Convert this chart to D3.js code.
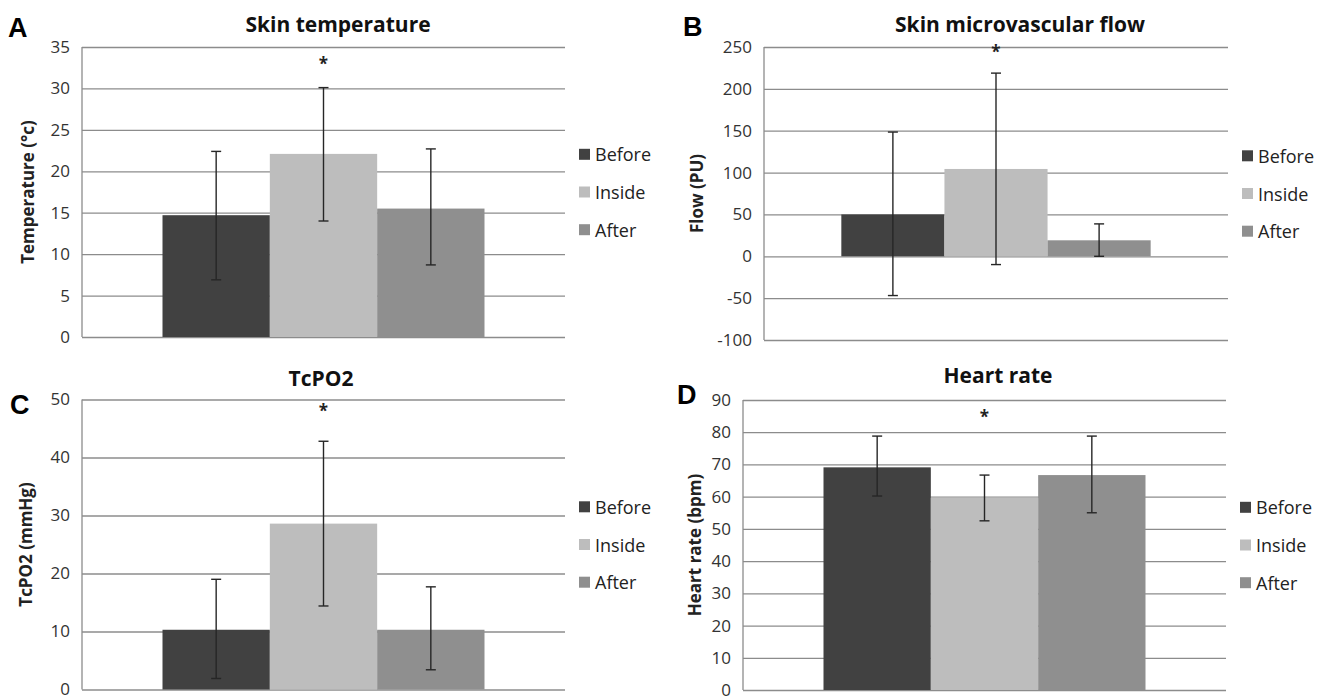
<!DOCTYPE html>
<html>
<head>
<meta charset="utf-8">
<script src="https://cdn.jsdelivr.net/npm/d3@7"></script>
<style>
  html, body { margin: 0; padding: 0; background: #fff; }
  svg { display: block; }
  text { font-family: "Open Sans", "Noto Sans", sans-serif; }
</style>
</head>
<body>
<svg id="chart" width="1323" height="696"></svg>
<script>
// ---------- data ----------
const categories = ["Before", "Inside", "After"];
const panelIds = ["A", "B", "C", "D"];
const titles = ["Skin temperature", "Skin microvascular flow", "TcPO2", "Heart rate"];
const yTitles = ["Temperature (°c)", "Flow (PU)", "TcPO2 (mmHg)", "Heart rate (bpm)"];
const yMins = [0, -100, 0, 0];
const yMaxs = [35, 250, 50, 90];
const yTickSteps = [5, 50, 10, 10];
const means = [
  [14.7, 22.1, 15.5],
  [50, 104.3, 19.1],
  [10.3, 28.6, 10.3],
  [69.1, 59.7, 66.7]
];
const errLow = [
  [6.9, 14.0, 8.7],
  [-46.9, -9.9, 0],
  [1.9, 14.4, 3.4],
  [60.2, 52.5, 55.0]
];
const errHigh = [
  [22.4, 30.1, 22.7],
  [148.4, 218.8, 38.7],
  [19.0, 42.8, 17.7],
  [78.8, 66.7, 78.8]
];
const sigCategory = ["Inside", "Inside", "Inside", "Inside"];
const sigValues = [33.3, 247.5, 48.6, 85.9];

// ---------- style / layout ----------
const colors = ["#414141", "#bdbdbd", "#8f8f8f"];
const frames = [
  { left: 82,  right: 565,  top: 47,  bottom: 337, letterX: 8,   letterY: 37,  titleX: 338,  titleY: 32,  yTitleX: 27 },
  { left: 764, right: 1228, top: 47,  bottom: 340, letterX: 683, letterY: 36,  titleX: 1020, titleY: 32,  yTitleX: 696 },
  { left: 82,  right: 565,  top: 399.5, bottom: 689.5, letterX: 10, letterY: 414, titleX: 321, titleY: 386, yTitleX: 25 },
  { left: 743, right: 1226, top: 400, bottom: 690, letterX: 677, letterY: 404, titleX: 998,  titleY: 383, yTitleX: 694 }
];

const svg = d3.select("#chart");
const color = d3.scaleOrdinal().domain(categories).range(colors);

panelIds.forEach((id, i) => {
  const f = frames[i];
  const g = svg.append("g");

  const y = d3.scaleLinear().domain([yMins[i], yMaxs[i]]).range([f.bottom, f.top]);
  const x0 = d3.scaleBand().domain(["group"]).range([f.left, f.right]).paddingInner(0).paddingOuter(0.25);
  const x1 = d3.scaleBand().domain(categories).range([x0("group"), x0("group") + x0.bandwidth()]).padding(0);

  const ticks = d3.range(yMins[i], yMaxs[i] + yTickSteps[i] / 2, yTickSteps[i]);

  // gridlines + tick labels
  const axis = d3.axisLeft(y)
    .tickValues(ticks)
    .tickSizeInner(-(f.right - f.left))
    .tickSizeOuter(0)
    .tickPadding(12)
    .tickFormat(d => String(d));
  const ax = g.append("g").attr("transform", `translate(${f.left},0)`).call(axis);
  ax.select(".domain").remove();
  ax.selectAll(".tick line").attr("stroke", "#8c8c8c").attr("stroke-width", 1.3);
  ax.selectAll(".tick text")
    .attr("fill", "#333")
    .style("font-size", "17px")
    .style("font-family", "'Open Sans', sans-serif");

  // left axis line
  g.append("line")
    .attr("x1", f.left).attr("x2", f.left)
    .attr("y1", y(yMins[i])).attr("y2", y(yMaxs[i]))
    .attr("stroke", "#8c8c8c").attr("stroke-width", 1.3);

  // bars
  const y0 = y(Math.max(0, yMins[i]));
  g.selectAll("rect.bar")
    .data(categories.map((c, j) => ({ c, v: means[i][j] })))
    .join("rect")
    .attr("class", "bar")
    .attr("x", d => x1(d.c))
    .attr("width", x1.bandwidth())
    .attr("y", d => Math.min(y(d.v), y0))
    .attr("height", d => Math.abs(y0 - y(d.v)))
    .attr("fill", d => color(d.c));

  // error bars
  const errs = categories.map((c, j) => ({ c, lo: errLow[i][j], hi: errHigh[i][j] }));
  const eg = g.append("g").attr("stroke", "#262626").attr("stroke-width", 1.4);
  errs.forEach(d => {
    const cx = x1(d.c) + x1.bandwidth() / 2;
    eg.append("line").attr("x1", cx).attr("x2", cx).attr("y1", y(d.hi)).attr("y2", y(d.lo));
    eg.append("line").attr("x1", cx - 5).attr("x2", cx + 5).attr("y1", y(d.hi)).attr("y2", y(d.hi));
    eg.append("line").attr("x1", cx - 5).attr("x2", cx + 5).attr("y1", y(d.lo)).attr("y2", y(d.lo));
  });

  // significance asterisk
  g.append("text")
    .attr("x", x1(sigCategory[i]) + x1.bandwidth() / 2)
    .attr("y", y(sigValues[i]))
    .attr("dy", "0.55em")
    .attr("text-anchor", "middle")
    .style("font-size", "17px")
    .style("font-weight", "bold")
    .attr("fill", "#222")
    .text("*");

  // title
  g.append("text")
    .attr("x", f.titleX).attr("y", f.titleY)
    .attr("text-anchor", "middle")
    .style("font-size", "21px").style("font-weight", "bold")
    .attr("fill", "#111")
    .text(titles[i]);

  // panel letter
  g.append("text")
    .attr("x", f.letterX).attr("y", f.letterY)
    .style("font-family", "'Liberation Sans', Arial, sans-serif")
    .style("font-size", "27px").style("font-weight", "bold")
    .attr("fill", "#000")
    .text(id);

  // y title
  const cy = (y(yMins[i]) + y(yMaxs[i])) / 2;
  g.append("text")
    .attr("transform", `translate(${f.yTitleX},${cy}) rotate(-90)`)
    .attr("text-anchor", "middle")
    .attr("dominant-baseline", "central")
    .style("font-size", "17px").style("font-weight", "bold")
    .attr("fill", "#222")
    .text(yTitles[i]);

  // legend
  const legX = f.right + 14;
  const legCy = cy;
  const leg = g.append("g");
  categories.forEach((c, j) => {
    const ly = legCy + (j - 1) * 37.7;
    leg.append("rect")
      .attr("x", legX).attr("y", ly - 5.5)
      .attr("width", 11).attr("height", 11)
      .attr("fill", color(c));
    leg.append("text")
      .attr("x", legX + 16).attr("y", ly)
      .attr("dominant-baseline", "central")
      .style("font-size", "18px")
      .attr("fill", "#222")
      .text(c);
  });
});
</script>
</body>
</html>
